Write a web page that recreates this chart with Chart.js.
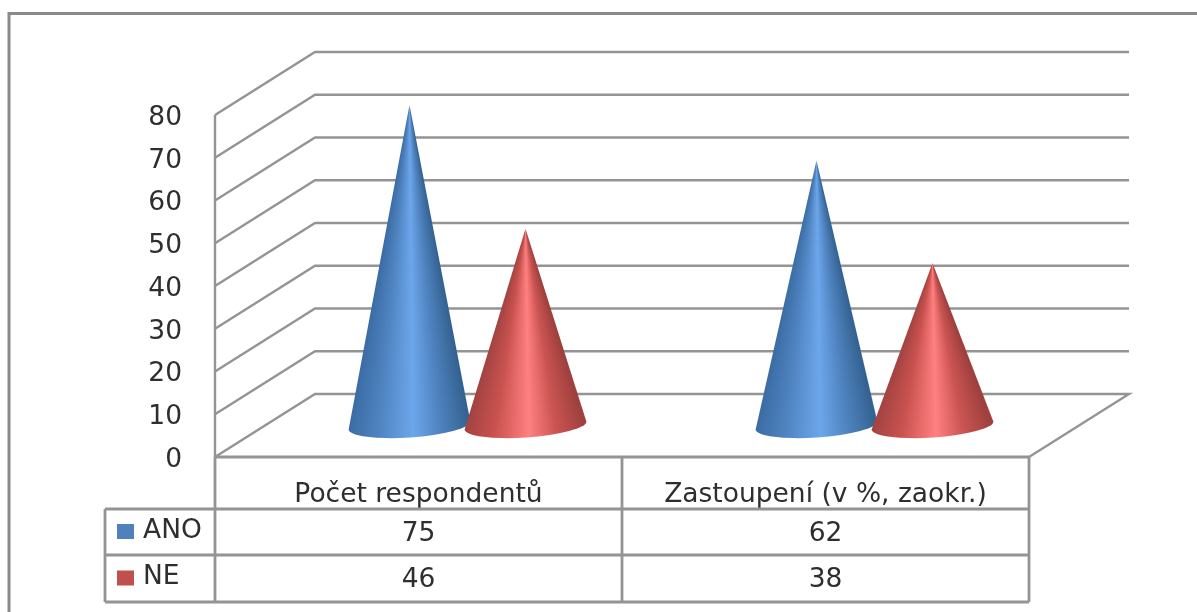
<!DOCTYPE html>
<html><head><meta charset="utf-8">
<style>html,body{margin:0;padding:0;background:#fff}#w{position:absolute;left:0;top:0;width:1197px;height:612px;overflow:hidden}canvas{filter:blur(0.6px)}</style>
<script src="https://cdn.jsdelivr.net/npm/chart.js@4"></script>
</head><body><div id="w"><canvas id="c" width="1197" height="612"></canvas></div>
<script>
const categories = ["Počet respondentů", "Zastoupení (v %, zaokr.)"];
const seriesNames = ["ANO", "NE"];
const ano = [75, 62];
const ne = [46, 38];
const keyColors = ["#4f81bd", "#c0504d"];
const rampBlue = ["#3a6ba3", "#4f84c1", "#6ca6eb", "#4f83c0", "#33618f"];
const rampRed = ["#a04240", "#c9524f", "#ff8080", "#cb5452", "#9b3f3d"];
const LINE = "#949494", TEXT = "#2e2e2e", FONT = "'DejaVu Sans'", FONT_SIZE = 26.5;
const DX = 100, DY = -63;

const scene = {
  id: "scene",
  beforeDraw(ch) {
    const items = ch.scales.y.getLabelItems(ch.chartArea);
    if (!items._moved) { items.forEach(i => { i.options.translation[1] += 3; }); items._moved = true; }
  },
  beforeDatasetsDraw(ch) {
    const c = ch.ctx, y = ch.scales.y, a = ch.chartArea;
    c.save();
    // outer frame: only top and left edges are visible
    c.strokeStyle = "#8a8a8a"; c.lineWidth = 3;
    c.beginPath(); c.moveTo(9, 620); c.lineTo(9, 13.5); c.lineTo(1200, 13.5); c.stroke();
    // gridlines on side and back walls
    c.strokeStyle = LINE; c.lineWidth = 2.4;
    y.ticks.forEach(t => {
      const p = y.getPixelForValue(t.value);
      c.beginPath(); c.moveTo(a.left, p); c.lineTo(a.left + DX, p + DY); c.lineTo(a.right + DX, p + DY);
      if (t.value === 0) c.lineTo(a.right, p);
      c.stroke();
    });
    c.beginPath(); c.moveTo(a.left, y.getPixelForValue(80)); c.lineTo(a.left, a.bottom); c.stroke();
    c.restore();
  },
  afterDatasetsDraw(ch) {
    const c = ch.ctx, a = ch.chartArea, x = ch.scales.x;
    // cones from the bar elements
    ch.data.datasets.forEach((ds, i) => {
      ch.getDatasetMeta(i).data.forEach(el => {
        const cx = el.x + DX / 2 - 1, top = el.y + DY / 2, base = el.base + DY / 2;
        const hw = el.width / 2 + 3, ry = 12, rot = -0.066;
        const ang = Math.atan2(hw, base - top), span = 2 * ang / (2 * Math.PI);
        const g = c.createConicGradient(Math.PI / 2 - ang, cx, top);
        const r = ds.ramp;
        g.addColorStop(0, r[4]); g.addColorStop(span * 0.25, r[3]); g.addColorStop(span * 0.47, r[2]);
        g.addColorStop(span * 0.75, r[1]); g.addColorStop(span, r[0]); g.addColorStop(1, r[0]);
        c.save();
        c.fillStyle = g;
        c.beginPath();
        c.moveTo(cx, top);
        c.lineTo(cx + hw * Math.cos(rot), base + hw * Math.sin(rot));
        c.ellipse(cx, base, hw, ry, rot, 0, Math.PI, false);
        c.closePath(); c.fill();
        c.restore();
      });
    });
    // data table
    const rows = [a.bottom, 509, 555, 602], left = 105;
    const mids = categories.map((_, i) => x.getPixelForTick(i));
    const edges = [a.left, (mids[0] + mids[1]) / 2, a.right];
    c.save();
    c.strokeStyle = LINE; c.lineWidth = 2.8;
    c.beginPath();
    c.moveTo(a.left, rows[0]); c.lineTo(a.right, rows[0]);
    for (let k = 1; k < 4; k++) { c.moveTo(left, rows[k]); c.lineTo(a.right, rows[k]); }
    edges.forEach(e => { c.moveTo(e, rows[0]); c.lineTo(e, rows[3]); });
    c.moveTo(left, rows[1]); c.lineTo(left, rows[3]);
    c.stroke();
    c.fillStyle = TEXT; c.font = FONT_SIZE + "px " + FONT; c.textBaseline = "middle";
    [ano, ne].forEach((vals, r) => {
      const my = (rows[r + 1] + rows[r + 2]) / 2 + 2;
      c.textAlign = "center";
      vals.forEach((v, i) => c.fillText(String(v), mids[i], my));
      c.textAlign = "left";
      c.fillText(seriesNames[r], 143, my - 3);
      c.save(); c.fillStyle = keyColors[r]; c.fillRect(117, my - 10, 17, 15); c.restore();
    });
    c.restore();
  }
};

new Chart(document.getElementById("c"), {
  type: "bar",
  data: {
    labels: categories,
    datasets: [
      { label: seriesNames[0], data: ano, backgroundColor: "rgba(0,0,0,0)", ramp: rampBlue },
      { label: seriesNames[1], data: ne, backgroundColor: "rgba(0,0,0,0)", ramp: rampRed }
    ]
  },
  options: {
    responsive: false, animation: false,
    layout: { padding: { left: 0, right: 168, top: 115, bottom: 0 } },
    datasets: { bar: { categoryPercentage: 0.57, barPercentage: 1 } },
    plugins: { legend: { display: false }, tooltip: { enabled: false }, title: { display: false } },
    scales: {
      x: {
        grid: { display: false, drawTicks: false }, border: { display: false },
        ticks: { padding: 22, color: TEXT, font: { family: FONT, size: FONT_SIZE }, maxRotation: 0 },
        afterFit(s) { s.height = 155; }
      },
      y: {
        min: 0, max: 80,
        grid: { display: false, drawTicks: false }, border: { display: false },
        ticks: { stepSize: 10, padding: 33, color: TEXT, font: { family: FONT, size: FONT_SIZE } },
        afterFit(s) { s.width = 215; }
      }
    }
  },
  plugins: [scene]
});
</script></body></html>
